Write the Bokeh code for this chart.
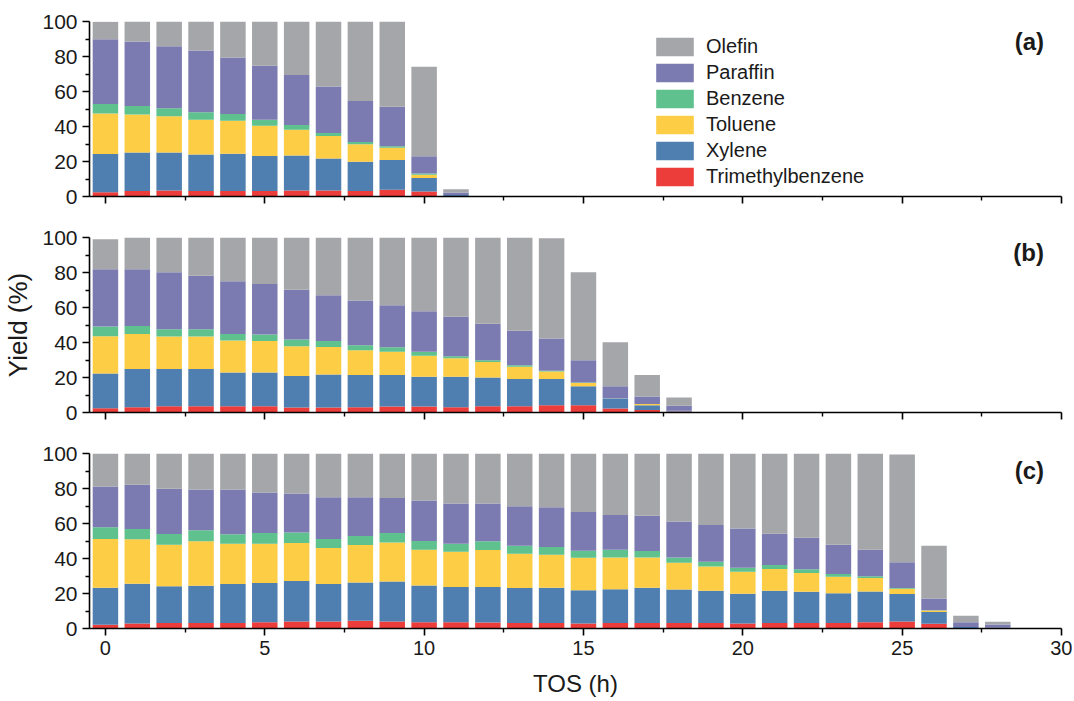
from bokeh.plotting import figure
from bokeh.layouts import column
from bokeh.models import (ColumnDataSource, Range1d, FixedTicker, Legend, LegendItem, Label)
from bokeh.embed import file_html
from bokeh.resources import INLINE

series = ["Trimethylbenzene", "Xylene", "Toluene", "Benzene", "Paraffin", "Olefin"]
colors = ["#ec3d3b", "#4f7fb0", "#fdcd45", "#5ec18e", "#7b7bb1", "#a4a6a9"]

# Panel (a)
a_tos = list(range(12))
a_tmb = [2.5, 3.2, 3.4, 3.2, 3.2, 3.2, 3.4, 3.4, 3.2, 3.8, 2.9, 0.2]
a_xyl = [21.8, 21.9, 21.7, 20.8, 21.3, 20.0, 20.0, 18.3, 16.6, 17.1, 7.7, 0.6]
a_tol = [23.2, 21.7, 20.7, 19.9, 18.8, 17.3, 14.8, 12.9, 10.0, 6.9, 1.9, 0.0]
a_ben = [5.4, 4.9, 4.6, 4.2, 3.8, 3.4, 2.7, 1.7, 1.4, 0.9, 0.6, 0.0]
a_par = [37.0, 36.9, 35.5, 35.4, 32.4, 30.8, 28.5, 26.6, 23.4, 22.6, 9.9, 1.5]
a_ole = [9.9, 11.4, 14.1, 16.5, 20.5, 25.3, 30.6, 37.1, 45.4, 48.7, 51.1, 1.9]

# Panel (b)
b_tos = list(range(19))
b_tmb = [2.5, 3.0, 3.6, 3.6, 3.6, 3.6, 2.9, 2.9, 3.0, 3.4, 3.4, 3.0, 3.6, 3.6, 4.2, 4.2, 2.3, 1.5, 0.6]
b_xyl = [19.8, 21.8, 21.2, 21.2, 19.3, 19.3, 17.9, 18.8, 18.5, 18.1, 17.0, 17.4, 16.4, 15.6, 15.0, 10.8, 5.5, 2.7, 0.4]
b_tol = [21.3, 20.0, 18.6, 18.6, 18.2, 17.9, 17.1, 15.8, 14.1, 13.2, 12.0, 10.6, 8.8, 6.9, 4.2, 1.8, 0.1, 0.6, 0.0]
b_ben = [5.5, 4.7, 4.2, 4.2, 3.7, 3.8, 3.8, 3.3, 2.9, 2.6, 2.3, 1.2, 1.1, 0.9, 0.4, 0.3, 0.1, 0.0, 0.0]
b_par = [32.8, 32.4, 32.6, 30.5, 30.2, 28.9, 28.4, 26.2, 25.5, 24.0, 23.2, 22.5, 20.8, 19.7, 18.5, 12.8, 7.0, 4.3, 2.8]
b_ole = [17.1, 18.1, 19.8, 21.9, 25.0, 26.5, 29.9, 33.0, 36.0, 38.7, 42.1, 45.3, 49.3, 53.3, 57.3, 50.3, 25.2, 12.4, 4.8]

# Panel (c)
c_tos = list(range(29))
c_tmb = [2.1, 2.9, 3.2, 3.2, 3.2, 3.6, 4.0, 4.0, 4.4, 4.0, 3.6, 3.6, 3.4, 3.1, 3.1, 2.9, 3.1, 3.1, 3.1, 3.1,
         2.9, 3.1, 3.1, 3.1, 3.6, 4.0, 2.7, 0.2, 0.1]
c_xyl = [21.2, 22.7, 21.0, 21.2, 22.2, 22.4, 23.1, 21.4, 21.9, 22.9, 21.0, 20.1, 20.3, 20.0, 20.2, 19.0, 19.4,
         20.2, 19.2, 18.5, 16.9, 18.5, 17.9, 17.1, 17.6, 15.7, 6.8, 0.6, 0.3]
c_tol = [27.8, 25.4, 23.7, 25.4, 23.1, 22.5, 21.8, 20.6, 21.4, 22.3, 20.4, 20.2, 21.1, 19.6, 18.9, 18.6, 18.1,
         17.3, 15.3, 13.9, 12.6, 12.4, 10.7, 9.4, 7.6, 3.0, 0.8, 0.0, 0.0]
c_ben = [6.7, 5.9, 6.1, 6.3, 5.3, 6.1, 5.9, 5.1, 5.2, 5.4, 5.0, 4.6, 5.0, 4.6, 4.4, 4.0, 4.4, 3.7, 3.0, 2.7,
         2.3, 2.3, 2.1, 1.5, 1.1, 0.4, 0.2, 0.0, 0.0]
c_par = [23.3, 25.2, 25.8, 23.3, 25.6, 23.1, 22.3, 23.9, 22.1, 20.0, 23.1, 22.9, 21.6, 22.5, 22.7, 22.1, 19.9,
         20.2, 20.5, 21.0, 22.4, 17.9, 18.1, 16.8, 15.1, 14.7, 6.7, 2.8, 1.9]
c_ole = [18.9, 17.9, 20.2, 20.6, 20.6, 22.3, 22.9, 25.0, 25.0, 25.4, 26.9, 28.6, 28.6, 30.2, 30.7, 33.4, 35.1,
         35.5, 38.9, 40.8, 42.9, 45.8, 48.1, 52.1, 55.0, 61.6, 30.1, 3.7, 1.5]

x_major = [0, 5, 10, 15, 20, 25, 30]
x_minor = [2.5, 7.5, 12.5, 17.5, 22.5, 27.5]
y_major = [0, 20, 40, 60, 80, 100]
y_minor = [10, 30, 50, 70, 90]

FONT = "Liberation Sans"
TXT = "#1a1a1a"


def make_panel(tos, vals, tag, tag_y, bottom_labels, ylabel, top_b, bot_b, legend=False):
    data = {"tos": tos}
    for s, v in zip(series, vals):
        data[s] = v
    src = ColumnDataSource(data)
    p = figure(frame_width=972, frame_height=175, output_backend="svg", toolbar_location=None,
               x_range=Range1d(-0.5, 30), y_range=Range1d(0, 100),
               min_border_left=88, min_border_right=12, min_border_top=top_b, min_border_bottom=bot_b)
    rs = p.vbar_stack(series, x="tos", width=0.8, source=src, color=colors, line_color=None)
    p.outline_line_color = None
    p.xgrid.visible = False
    p.ygrid.visible = False

    xa = p.xaxis[0]
    xa.ticker = FixedTicker(ticks=x_major, minor_ticks=x_minor)
    xa.axis_line_width = 1.6
    xa.major_tick_line_width = 1.6
    xa.minor_tick_line_width = 1.4
    xa.major_tick_out = 7
    xa.major_tick_in = 0
    xa.minor_tick_out = 4
    xa.minor_tick_in = 0
    xa.major_label_text_font = FONT
    xa.major_label_text_font_size = "20px"
    xa.major_label_text_color = TXT
    xa.major_label_standoff = 5
    if bottom_labels:
        xa.axis_label = "TOS (h)"
        xa.axis_label_text_font = FONT
        xa.axis_label_text_font_size = "24px"
        xa.axis_label_text_font_style = "normal"
        xa.axis_label_text_color = TXT
        xa.axis_label_standoff = 12
    else:
        xa.major_label_overrides = {t: "" for t in x_major}
        xa.major_label_standoff = 0

    ya = p.yaxis[0]
    ya.ticker = FixedTicker(ticks=y_major, minor_ticks=y_minor)
    ya.axis_line_width = 1.6
    ya.major_tick_line_width = 1.6
    ya.minor_tick_line_width = 1.4
    ya.major_tick_out = 7
    ya.major_tick_in = 0
    ya.minor_tick_out = 4
    ya.minor_tick_in = 0
    ya.major_label_text_font = FONT
    ya.major_label_text_font_size = "21px"
    ya.major_label_text_color = TXT
    ya.major_label_standoff = 5
    if ylabel:
        ya.axis_label = ylabel
        ya.axis_label_text_font = FONT
        ya.axis_label_text_font_size = "26px"
        ya.axis_label_text_font_style = "normal"
        ya.axis_label_text_color = TXT
        ya.axis_label_standoff = 6

    p.add_layout(Label(x=29.45, y=tag_y, text=tag, text_align="right", text_baseline="middle",
                       text_font=FONT, text_font_size="24px", text_font_style="bold",
                       text_color=TXT))

    if legend:
        items = [LegendItem(label=s, renderers=[r]) for s, r in zip(series, rs)][::-1]
        lg = Legend(items=items, location=(562, 8), orientation="vertical",
                    glyph_width=47, glyph_height=23, label_height=23, spacing=3,
                    label_standoff=8, padding=0, margin=0,
                    border_line_color=None, background_fill_alpha=0,
                    label_text_font=FONT, label_text_font_size="20px", label_text_color=TXT)
        p.add_layout(lg, "center")
    return p


pa = make_panel(a_tos, [a_tmb, a_xyl, a_tol, a_ben, a_par, a_ole], "(a)", 88.8, False, None, 21, 21, legend=True)
pb = make_panel(b_tos, [b_tmb, b_xyl, b_tol, b_ben, b_par, b_ole], "(b)", 91.6, False, "Yield (%)", 20, 21)
pc = make_panel(c_tos, [c_tmb, c_xyl, c_tol, c_ben, c_par, c_ole], "(c)", 90.2, True, None, 20, 10)

layout = column(pa, pb, pc, spacing=0)
open("out.html", "w").write(file_html(layout, INLINE))
